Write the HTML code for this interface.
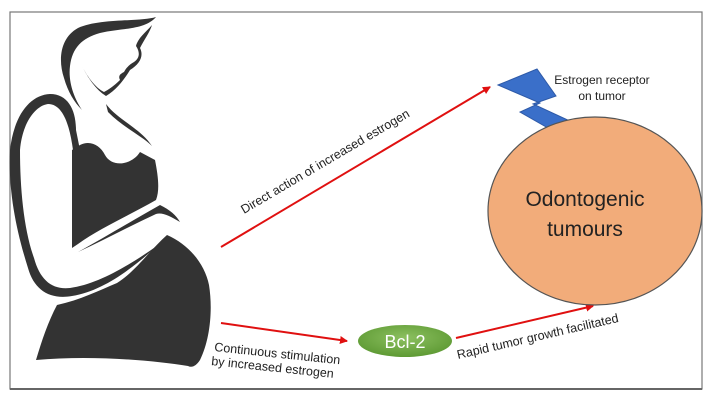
<!DOCTYPE html>
<html><head><meta charset="utf-8"><style>
html,body{margin:0;padding:0;background:#fff;}
svg{display:block;}
text{font-family:"Liberation Sans",sans-serif;fill:#222;}
</style></head><body>
<svg width="711" height="401" viewBox="0 0 711 401" xmlns="http://www.w3.org/2000/svg">
<defs>
<marker id="ah" markerWidth="8" markerHeight="8" refX="7" refY="4" orient="auto" markerUnits="userSpaceOnUse">
<path d="M0,0 L8,4 L0,8 Z" fill="#e01010"/></marker>
<radialGradient id="g" cx="50%" cy="40%" r="60%"><stop offset="0" stop-color="#8cc060"/><stop offset="1" stop-color="#5e9a34"/></radialGradient>
</defs>
<rect x="10" y="12" width="692" height="377" fill="#fff" stroke="#777" stroke-width="1.2"/>
<line x1="10" y1="389" x2="702" y2="389" stroke="#666" stroke-width="2"/>
<g fill="#333" stroke="none">
<path d="M156,17 C140,22 100,18 78,28 C60,38 58,60 64,78 C68,92 74,102 82,110 C74,98 68,82 70,66 C72,48 82,38 100,33 C122,28 145,30 156,17 Z"/>
<path d="M152,25 C146,32 138,38 136,46 C140,52 140,58 134,62 C130,64 126,68 124,72 C120,74 118,76 120,80 C114,86 108,90 104,92 C96,88 88,78 82,66 C88,78 96,90 106,96 C116,90 124,80 130,70 C140,64 144,56 140,48 C144,40 150,32 152,25 Z"/>
<path d="M106,104 C118,120 140,128 152,146 C142,136 124,128 108,112 Z"/>
<path d="M10,150 C14,115 30,95 50,94 C68,94 76,110 76,130 L80,150 L73,150 C70,128 64,104 48,104 C34,106 22,125 20,150 C20,190 24,230 34,258 C40,280 52,290 70,288 C100,284 135,262 165,240 L168,236 C140,262 108,290 72,296 C50,300 34,290 28,268 C16,230 8,190 10,150 Z"/>
<path d="M80,145 C90,140 100,145 105,155 C112,168 132,165 140,152 L155,160 C158,175 160,190 156,200 C130,215 100,228 78,244 L72,248 L72,150 Z"/>
<path d="M78,252 C100,240 130,222 160,205 C170,210 176,215 180,222 C170,216 162,212 156,214 C130,226 104,240 78,252 Z"/>
<path d="M36,360 C42,340 48,322 57,305 C80,300 100,290 117,283 C135,272 150,250 167,235 C190,245 205,265 209,285 C213,310 210,340 200,360 C196,366 192,368 188,366 C150,360 90,355 36,360 Z"/>
</g>
<g stroke="#e01010" stroke-width="2" fill="none" marker-end="url(#ah)">
<line x1="221" y1="247" x2="490" y2="87"/>
<line x1="221" y1="323" x2="347" y2="341"/>
<line x1="456" y1="338" x2="593" y2="306"/>
</g>
<polygon points="498,85 537,69 556,96 533,104 572,122 548,128 520,112 540,103" fill="#3a6fc9" stroke="#2e5aa8" stroke-width="1"/>
<ellipse cx="595" cy="211" rx="107" ry="94" fill="#f2ac7a" stroke="#555" stroke-width="1.2"/>
<text x="585" y="206" font-size="21" text-anchor="middle">Odontogenic</text>
<text x="585" y="236" font-size="21" text-anchor="middle">tumours</text>
<ellipse cx="405" cy="341" rx="47" ry="16" fill="url(#g)"/>
<text x="405" y="348" font-size="18" text-anchor="middle" style="fill:#fff">Bcl-2</text>
<text x="602" y="84" font-size="12" text-anchor="middle">Estrogen receptor</text>
<text x="602" y="100" font-size="12" text-anchor="middle">on tumor</text>
<text transform="translate(244,214) rotate(-30.5)" font-size="12.5">Direct action of increased estrogen</text>
<text transform="translate(214,351) rotate(6)" font-size="12.5">Continuous stimulation</text>
<text transform="translate(211,365) rotate(6)" font-size="12.5">by increased estrogen</text>
<text transform="translate(458,359) rotate(-13)" font-size="12.5">Rapid tumor growth facilitated</text>
</svg>
</body></html>
